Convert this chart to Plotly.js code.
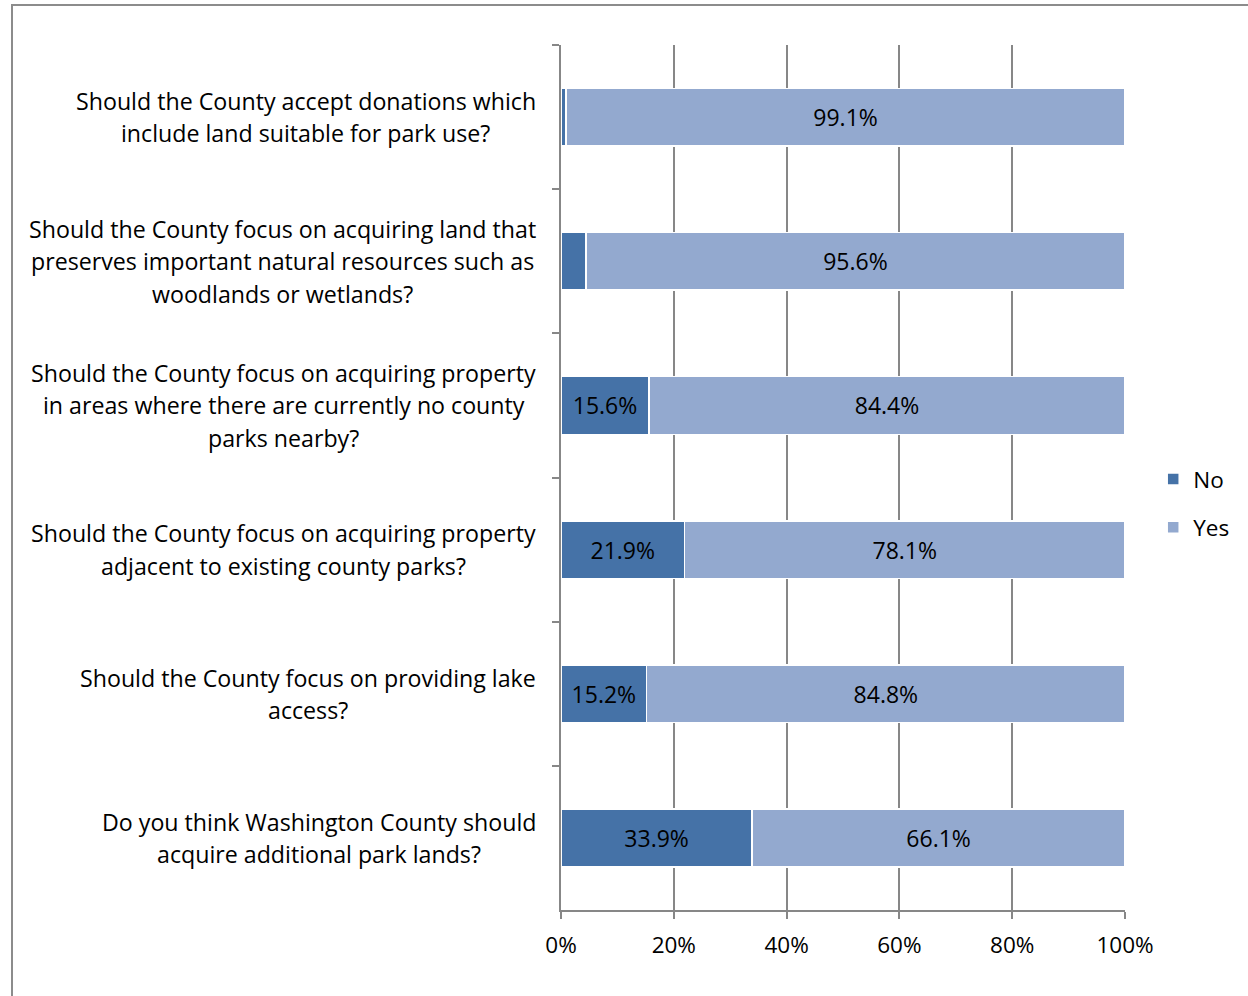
<!DOCTYPE html>
<html>
<head>
<meta charset="utf-8">
<script src="https://cdn.plot.ly/plotly-3.0.1.min.js"></script>
<style>
  html, body { margin: 0; padding: 0; background: #fff; }
  #frame { position: absolute; left: 0; top: 0; width: 1248px; height: 996px; overflow: hidden; }
  #border { position: absolute; left: 11px; top: 4px; width: 1260px; height: 1010px; border-left: 2px solid #8c8c8c; border-top: 2px solid #8c8c8c; box-sizing: border-box; }
  #chart { position: absolute; left: 0; top: 0; width: 1248px; height: 996px; }
</style>
</head>
<body>
<div id="frame">
  <div id="border"></div>
  <div id="chart"></div>
</div>
<script>
const questions = [
  ["Should the County accept donations which", "include land suitable for park use?"],
  ["Should the County focus on acquiring land that", "preserves important natural resources such as", "woodlands or wetlands?"],
  ["Should the County focus on acquiring property", "in areas where there are currently no county", "parks nearby?"],
  ["Should the County focus on acquiring property", "adjacent to existing county parks?"],
  ["Should the County focus on providing lake", "access?"],
  ["Do you think Washington County should", "acquire additional park lands?"]
];
const noValues = [0.9, 4.4, 15.6, 21.9, 15.2, 33.9];
const yesValues = [99.1, 95.6, 84.4, 78.1, 84.8, 66.1];
const xTickValues = [0, 20, 40, 60, 80, 100];
const xTickLabels = ["0%", "20%", "40%", "60%", "80%", "100%"];

const FONT = "'Open Sans', sans-serif";
const SIZE = 22.5;
const LABEL_SIZE = 23.2;
const BAR_TEXT_SIZE = 23;
const cats = questions.map((q, i) => "q" + i);
const fmt = v => v.toFixed(1) + "%";

const traceNo = {
  type: "bar", orientation: "h", name: "No", legendgroup: "no",
  y: cats, x: noValues,
  text: noValues.map(v => v >= 10 ? fmt(v) : ""),
  textposition: "inside", insidetextanchor: "middle", textangle: 0,
  constraintext: "none",
  insidetextfont: { family: FONT, size: BAR_TEXT_SIZE, color: "#000" },
  marker: { color: "#4572A7", line: { color: "#ffffff", width: 1.5 } },
  hoverinfo: "none"
};
const traceYes = {
  type: "bar", orientation: "h", name: "Yes", legendgroup: "yes",
  y: cats, x: yesValues,
  text: yesValues.map(fmt),
  textposition: "inside", insidetextanchor: "middle", textangle: 0,
  constraintext: "none",
  insidetextfont: { family: FONT, size: BAR_TEXT_SIZE, color: "#000" },
  marker: { color: "#93A9CF", line: { color: "#ffffff", width: 1.5 } },
  hoverinfo: "none"
};

const W = 1248, ML = 561, MR = 123;
const plotW = W - ML - MR;
const RIGHT_EDGE = 536;  // right edge of the label block, px
const LINE = 32.5;

const ctx = document.createElement("canvas").getContext("2d");
ctx.font = LABEL_SIZE + "px 'Open Sans'";

const annotations = [];
questions.forEach((lines, i) => {
  const n = lines.length;
  const maxW = Math.max(...lines.map(l => ctx.measureText(l).width));
  const centerPx = RIGHT_EDGE - maxW / 2;
  const xPaper = (centerPx - ML) / plotW;
  lines.forEach((line, k) => {
    annotations.push({
      xref: "paper", yref: "y", x: xPaper, y: cats[i],
      xanchor: "center", yanchor: "middle", align: "center",
      yshift: -((k - (n - 1) / 2) * LINE),
      text: line, showarrow: false,
      font: { family: FONT, size: LABEL_SIZE, color: "#000" }
    });
  });
});

const layout = {
  width: W, height: 996,
  margin: { l: ML, r: MR, t: 45, b: 86, pad: 0 },
  paper_bgcolor: "rgba(0,0,0,0)", plot_bgcolor: "rgba(0,0,0,0)",
  barmode: "stack", bargap: 0.6,
  showlegend: true,
  legend: {
    x: 1.05, y: 0.47, xanchor: "left", yanchor: "middle",
    font: { family: FONT, size: SIZE, color: "#000" },
    itemwidth: 30, tracegroupgap: 16, traceorder: "grouped"
  },
  xaxis: {
    range: [0, 100], tickvals: xTickValues, ticktext: xTickLabels,
    showgrid: true, gridcolor: "#878787", gridwidth: 2,
    showline: true, linecolor: "#878787", linewidth: 2,
    ticks: "outside", ticklen: 7, tickcolor: "#878787", tickwidth: 2,
    ticklabelstandoff: 7,
    tickfont: { family: FONT, size: SIZE, color: "#000" },
    zeroline: false, fixedrange: true
  },
  yaxis: {
    type: "category", categoryorder: "array", categoryarray: cats,
    autorange: "reversed",
    showticklabels: false, showgrid: false,
    showline: true, linecolor: "#878787", linewidth: 2,
    ticks: "outside", tickson: "boundaries", ticklen: 7, tickcolor: "#878787", tickwidth: 2,
    zeroline: false, fixedrange: true
  },
  annotations: annotations
};

Plotly.newPlot("chart", [traceNo, traceYes], layout, { staticPlot: true, displayModeBar: false });
</script>
</body>
</html>
